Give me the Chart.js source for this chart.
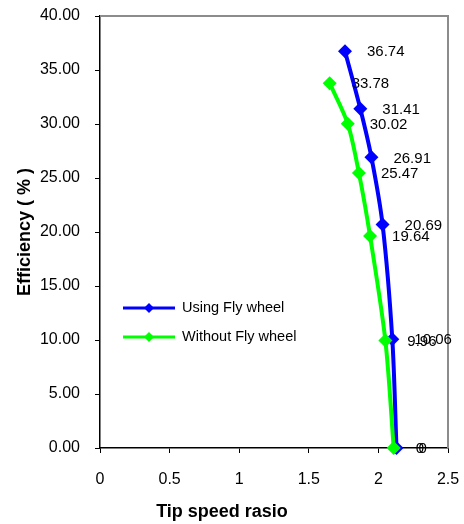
<!DOCTYPE html>
<html>
<head>
<meta charset="utf-8">
<script src="https://cdn.jsdelivr.net/npm/chart.js@4.4.0/dist/chart.umd.min.js"></script>
<style>
html,body{margin:0;padding:0;background:#fff;}
#wrap{position:relative;width:464px;height:524px;}
</style>
</head>
<body>
<div id="wrap"><canvas id="c" width="464" height="524"></canvas></div>
<script>
const seriesNames = ["Using Fly wheel", "Without Fly wheel"];
const tsrWith = [1.76, 1.87, 1.95, 2.03, 2.10, 2.13];
const effWith = [36.74, 31.41, 26.91, 20.69, 10.06, 0];
const tsrWithout = [1.65, 1.78, 1.86, 1.94, 2.05, 2.11];
const effWithout = [33.78, 30.02, 25.47, 19.64, 9.96, 0];
const xTitle = "Tip speed rasio";
const yTitle = "Efficiency ( % )";
const colors = ["#0000FF", "#00FF00"];

const FONT = "'Liberation Sans', Arial, sans-serif";

function pts(xs, ys){ return xs.map((x,i)=>({x:x, y:ys[i]})); }

const framePlugin = {
  id: 'frame',
  beforeDatasetsDraw(chart){
    const {ctx, chartArea:a} = chart;
    ctx.save();
    ctx.strokeStyle = '#8c8c8c';
    ctx.lineWidth = 2;
    ctx.beginPath();
    ctx.moveTo(a.left, a.top);
    ctx.lineTo(a.right, a.top);
    ctx.lineTo(a.right, a.bottom);
    ctx.stroke();
    ctx.restore();
  }
};

const labelPlugin = {
  id: 'vlabels',
  afterDatasetsDraw(chart){
    const ctx = chart.ctx;
    ctx.save();
    ctx.font = "15px " + FONT;
    ctx.fillStyle = '#000';
    ctx.textAlign = 'left';
    ctx.textBaseline = 'middle';
    chart.data.datasets.forEach((ds, di)=>{
      const meta = chart.getDatasetMeta(di);
      meta.data.forEach((el, i)=>{
        const v = ds.data[i].y;
        const txt = v === 0 ? "0" : v.toFixed(2);
        ctx.fillText(txt, el.x + 22, el.y + 1);
      });
    });
    ctx.restore();
  }
};

const legendPlugin = {
  id: 'inlegend',
  afterDraw(chart){
    const ctx = chart.ctx;
    ctx.save();
    const rows = [308, 337];
    seriesNames.forEach((name, i)=>{
      const y = rows[i];
      ctx.strokeStyle = colors[i];
      ctx.lineWidth = 3;
      ctx.beginPath();
      ctx.moveTo(123, y); ctx.lineTo(175, y); ctx.stroke();
      ctx.fillStyle = colors[i];
      ctx.beginPath();
      ctx.moveTo(149, y-5); ctx.lineTo(154, y); ctx.lineTo(149, y+5); ctx.lineTo(144, y); ctx.closePath();
      ctx.fill();
      ctx.fillStyle = '#000';
      ctx.font = "14.5px " + FONT;
      ctx.textAlign = 'left';
      ctx.textBaseline = 'middle';
      ctx.fillText(name, 182, y);
    });
    ctx.font = "bold 18px " + FONT;
    ctx.textAlign = 'center';
    ctx.textBaseline = 'middle';
    ctx.fillText(xTitle, 222, 512);
    ctx.translate(25, 232);
    ctx.rotate(-Math.PI/2);
    ctx.fillText(yTitle, 0, 0);
    ctx.restore();
  }
};

new Chart(document.getElementById('c'), {
  type: 'line',
  data: {
    datasets: [
      { label: seriesNames[0], data: pts(tsrWith, effWith), borderColor: colors[0], backgroundColor: colors[0],
        borderWidth: 4, pointStyle: 'rectRot', pointRadius: 7, pointBorderWidth: 0, tension: 0.3, order: 2, clip: false },
      { label: seriesNames[1], data: pts(tsrWithout, effWithout), borderColor: colors[1], backgroundColor: colors[1],
        borderWidth: 4, pointStyle: 'rectRot', pointRadius: 7, pointBorderWidth: 0, tension: 0.3, order: 1, clip: false }
    ]
  },
  options: {
    responsive: false,
    animation: false,
    layout: { padding: { top: 16, right: 16, left: 0, bottom: 0 } },
    plugins: { legend: { display: false }, tooltip: { enabled: false } },
    scales: {
      x: {
        type: 'linear', min: 0, max: 2.5,
        ticks: { stepSize: 0.5, color: '#000', font: { family: FONT, size: 16 }, padding: 17, maxRotation: 0,
                 callback: v => String(v) },
        grid: { drawOnChartArea: false, tickLength: 5, color: '#000', tickColor: '#000' },
        border: { color: '#000', width: 1.5 },
        afterFit(s){ s.height = 76; s.paddingLeft = 0; s.paddingRight = 0; }
      },
      y: {
        min: 0, max: 40,
        ticks: { stepSize: 5, color: '#000', font: { family: FONT, size: 16 }, padding: 15,
                 callback: v => Number(v).toFixed(2) },
        grid: { drawOnChartArea: false, tickLength: 5, color: '#000', tickColor: '#000' },
        border: { color: '#000', width: 1.5 },
        afterFit(s){ s.width = 100; s.paddingTop = 0; s.paddingBottom = 0; }
      }
    }
  },
  plugins: [framePlugin, labelPlugin, legendPlugin]
});
</script>
</body>
</html>
